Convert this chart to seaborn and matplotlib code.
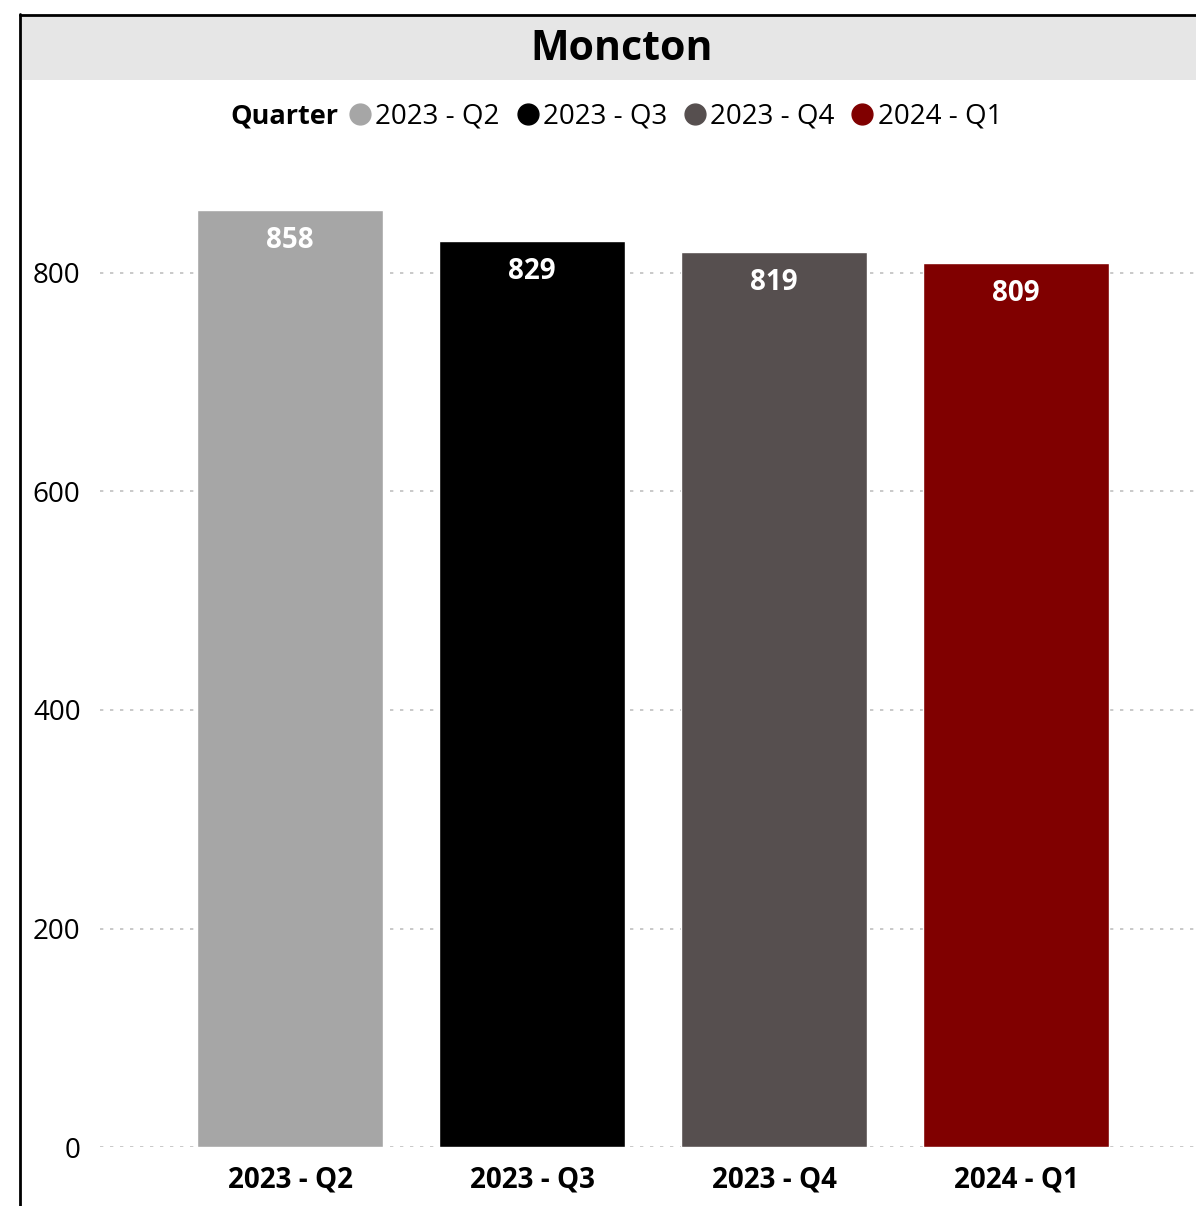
import pandas as pd
import matplotlib.pyplot as plt
import seaborn as sns
from matplotlib.lines import Line2D
from matplotlib.patches import Rectangle

quarters = ["2023 - Q2", "2023 - Q3", "2023 - Q4", "2024 - Q1"]
values = [858, 829, 819, 809]
colors = ["#A6A6A6", "#000000", "#564F4F", "#800000"]
yticks = [0, 200, 400, 600, 800]

df = pd.DataFrame({"quarter": quarters, "value": values})
palette = dict(zip(quarters, colors))

sns.set_style("white")
plt.rcParams["font.family"] = ["Open Sans", "DejaVu Sans"]
plt.rcParams["text.color"] = "black"
plt.rcParams["xtick.color"] = "black"
plt.rcParams["ytick.color"] = "black"

W, H = 1196, 1206
fig = plt.figure(figsize=(W / 100, H / 100), dpi=100)

# axes placed so 0 sits at y=1147px and 800 at y=273px
px_per_unit = (1147 - 273) / 800
ymax = 900
ax = fig.add_axes([100 / W, (H - 1147) / H, 1 - 100 / W, ymax * px_per_unit / H])

sns.barplot(data=df, x="quarter", y="value", hue="quarter", palette=palette,
            order=quarters, hue_order=quarters, dodge=False, legend=False,
            width=0.77, saturation=1, ax=ax)

ax.set_ylim(0, ymax)
spacing = 242
ax.set_xlim((100 - 290) / spacing, (W - 290) / spacing)
ax.set_yticks(yticks)
ax.set_yticklabels([str(t) for t in yticks], fontsize=20)
ax.tick_params(axis="y", length=0, pad=14)
ax.tick_params(axis="x", length=0, pad=13)
for lbl in ax.get_xticklabels():
    lbl.set_fontsize(20)
    lbl.set_fontweight("bold")
ax.set_xlabel("")
ax.set_ylabel("")
for s in ax.spines.values():
    s.set_visible(False)
ax.yaxis.grid(True, color="#C0C0C0", linestyle=(0, (2, 4)), linewidth=1.2)
ax.set_axisbelow(True)

# value labels inside the top of each bar
for p in ax.patches:
    h = p.get_height()
    if h <= 0:
        continue
    ax.annotate(f"{h:.0f}", (p.get_x() + p.get_width() / 2, h),
                xytext=(0, -22), textcoords="offset points",
                ha="center", va="center", color="white",
                fontsize=20, fontweight="bold")

# title bar and frame
fig.patches.append(Rectangle((21 / W, 1 - 80 / H), 1, 64 / H, transform=fig.transFigure,
                             facecolor="#E6E6E6", edgecolor="none", zorder=0))
fig.lines.append(Line2D([20 / W, 20 / W], [0, 1 - 14 / H], transform=fig.transFigure,
                        color="black", linewidth=2))
fig.lines.append(Line2D([20 / W, 1], [1 - 15 / H, 1 - 15 / H], transform=fig.transFigure,
                        color="black", linewidth=2))
fig.text(622 / W, 1 - 50 / H, "Moncton", ha="center", va="center",
         fontsize=29.5, fontweight="bold")

# legend
fig.text(230 / W, 1 - 117 / H, "Quarter", ha="left", va="center",
         fontsize=19.5, fontweight="bold")
handles = [Line2D([], [], marker="o", linestyle="", markersize=15,
                  markerfacecolor=c, markeredgecolor=c) for c in colors]
fig.legend(handles, quarters, loc="center", bbox_to_anchor=(677 / W, 1 - 117 / H),
           ncol=4, frameon=False, fontsize=20, handlelength=0.6,
           handletextpad=0.25, columnspacing=0.7, borderpad=0)

fig.savefig("out.png", dpi=100)
